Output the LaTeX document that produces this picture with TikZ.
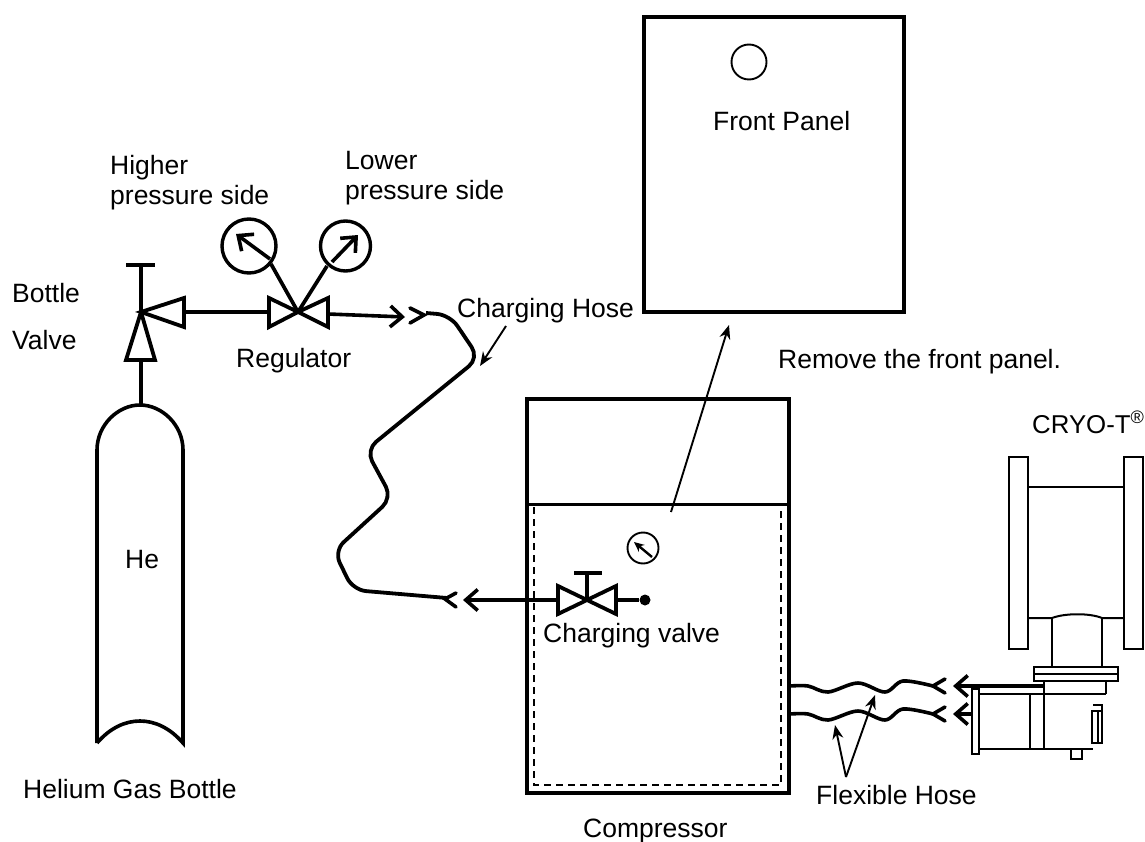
\documentclass[tikz,border=0pt]{standalone}
\usepackage{fontspec}
\setmainfont{Liberation Sans}
\usetikzlibrary{arrows.meta}
\tikzset{
  heavy/.style={line width=3.8pt,line join=miter},
  thin line/.style={line width=1.9pt},
  lab/.style={inner sep=0pt,anchor=base west,font=\fontsize{26.5}{30}\selectfont},
  openarrow/.style={-{Straight Barb[length=12pt,width=21pt,line width=3.6pt]},line width=3.6pt},
  leader/.style={-{Stealth[length=14pt,width=11pt]},line width=1.9pt},
  chev/.style={line width=3.6pt,line cap=round,line join=miter},
  pipe/.style={line width=3.7pt},
  hose/.style={line width=3.8pt,rounded corners=13pt},
  wave/.style={line width=3.6pt},
  gauge/.style={circle,draw,line width=3.4pt,inner sep=0pt,fill=white},
  cl/.style={line width=2pt},
}
\begin{document}
\begin{tikzpicture}[x=1pt,y=-1pt]
\useasboundingbox (0,0) rectangle (1145,842);
% labels
\node[lab] (tFront) at (713,131) {Front Panel};
\node[lab] (tHigh1) at (110,175) {Higher};
\node[lab] (tHigh2) at (110,205) {pressure side};
\node[lab] (tLow1) at (345,170) {Lower};
\node[lab] (tLow2) at (345,200) {pressure side};
\node[lab] (tBottle) at (12,302) {Bottle};
\node[lab] (tValve) at (12,349) {Valve};
\node[lab] (tReg) at (236,367) {Regulator};
\node[lab] (tChose) at (457,317) {Charging Hose};
\node[lab] (tRemove) at (778,368) {Remove the front panel.};
\node[lab,font=\fontsize{25.8}{30}\selectfont] (tCryo) at (1032,433) {CRYO-T\textsuperscript{\textregistered}};
\node[lab] (tHe) at (125,568) {He};
\node[lab] (tCval) at (543,642) {Charging valve};
\node[lab] (tFlex) at (816,804) {Flexible Hose};
\node[lab] (tHelium) at (23,798) {Helium Gas Bottle};
\node[lab] (tComp) at (583,837) {Compressor};
% front panel
\node[draw,heavy,minimum width=260pt,minimum height=295pt,inner sep=0pt] (panel) at (774,164.5) {};
\node[circle,draw,thin line,minimum size=35pt,inner sep=0pt] (hole) at (749,62) {};
% compressor
\node[draw,line width=4.2pt,minimum width=262pt,minimum height=394pt,inner sep=0pt] (comp) at (658,596) {};
\coordinate (cmL) at (527,504.5); \coordinate (cmR) at (789,504.5);
\draw[heavy] (cmL) -- (cmR);
\draw[thin line,dash pattern=on 7pt off 5pt] (534,507) -- (534,785) -- (781,785) -- (781,507);
% main leader
\coordinate (lA) at (671,512); \coordinate (lB) at (729,325);
\draw[leader] (lA) -- (lB);
% bottle
\draw[line width=3.6pt] (97,743) -- (97,450) .. controls (97,425) and (118,405) .. (140,405) .. controls (162,405) and (183,425) .. (183,450) -- (183,743) .. controls (170,728) and (155,721) .. (140,721) .. controls (125,721) and (110,728) .. (97,743);
% bottle valve
\coordinate (bv) at (141,312);
\draw[pipe] (141,405) -- (141,360);
\draw[heavy] (bv) -- (155,360) -- (126,360) -- cycle;
\draw[heavy] (bv) -- (184,298) -- (184,327) -- cycle;
\draw[pipe] (bv) -- (141,265);
\draw[pipe] (126,265) -- (155,265);
% regulator
\coordinate (rg) at (298,312);
\draw[pipe] (184,312) -- (269,312);
\draw[heavy] (rg) -- (269,298) -- (269,327) -- cycle;
\draw[heavy] (rg) -- (328,298) -- (328,327) -- cycle;
\node[gauge,minimum size=54pt] (g1) at (249,246) {};
\node[gauge,minimum size=50pt] (g2) at (345.5,246) {};
\draw[pipe] (rg) -- (271,264);
\draw[pipe] (rg) -- (327,266);
\draw[openarrow] (270,259) -- (236,234);
\draw[openarrow] (332,262) -- (358,235);
\draw[openarrow] (328,314) -- (405,317);
\draw[chev] (410,308) -- (424,315) -- (410,323);
% charging hose
\draw[hose] (426,313) -- (450,315) -- (479,358) -- (366,450) -- (392,498) -- (334,551) -- (353,590) -- (447,598);
\draw[leader] (506,326) -- (480,366);
% charging valve
\coordinate (cv) at (587,600);
\draw[heavy] (cv) -- (558,586) -- (558,614) -- cycle;
\draw[heavy] (cv) -- (616,586) -- (616,614) -- cycle;
\draw[pipe] (cv) -- (587,573);
\draw[pipe] (574,573) -- (602,573);
\node[circle,fill=black,minimum size=11pt,inner sep=0pt] (dot) at (645,600) {};
\draw[pipe] (616,600) -- (dot);
\draw[openarrow] (558,600) -- (463,600);
\draw[chev] (456,593) -- (445,599) -- (456,607);
% small gauge
\node[circle,draw,thin line,minimum size=31pt,inner sep=0pt] (g3) at (643,548) {};
\draw[-{Stealth[length=10pt,width=9pt]},line width=2.4pt] (652,557) -- (634,542);
% flexible hoses
\draw[wave] plot[smooth,tension=0.55] coordinates {(790,686) (808,686) (828,692) (858,683) (885,692) (903,681) (933,686)};
\draw[wave] plot[smooth,tension=0.55] coordinates {(790,714) (808,714) (828,720) (858,711) (885,720) (903,709) (933,714)};
\draw[chev] (945,679) -- (933,686) -- (945,693);
\draw[chev] (945,707) -- (933,714) -- (945,721);
\draw[openarrow] (1044,686) -- (953,686);
\draw[openarrow] (972,714) -- (953,714);
\coordinate (fx) at (846,777);
\draw[leader] (fx) -- (835,725);
\draw[leader] (fx) -- (875,695);
% cryo head
\node[draw,cl,minimum width=19pt,minimum height=192pt,inner sep=0pt] (fl1) at (1018.5,553) {};
\node[draw,cl,minimum width=19pt,minimum height=192pt,inner sep=0pt] (fl2) at (1133.5,553) {};
\draw[cl] (1028,487) -- (1124,487);
\draw[cl] (1028,618) -- (1052,618) .. controls (1065,613) and (1090,613) .. (1102,618) -- (1124,618);
\draw[cl] (1052,618) -- (1052,667);
\draw[cl] (1102,618) -- (1102,667);
\draw[cl] (1034,667) rectangle (1118,681);
\draw[line width=2.6pt] (1034,674) -- (1118,674);
\draw[cl] (1044,681) -- (1044,749);
\draw[cl] (1106,681) -- (1106,694);
\draw[cl] (979,694) -- (1106,694);
\draw[cl] (972,689) rectangle (979,754);
\draw[cl] (979,749) -- (1093,749);
\draw[cl] (1030,694) -- (1030,749);
\draw[cl] (1093,705) -- (1102,705) -- (1102,711);
\draw[cl] (1092,711) rectangle (1102,743);
\draw[cl] (1098,711) -- (1098,743);
\draw[cl] (1071,749) rectangle (1082,759);
\end{tikzpicture}
\end{document}
